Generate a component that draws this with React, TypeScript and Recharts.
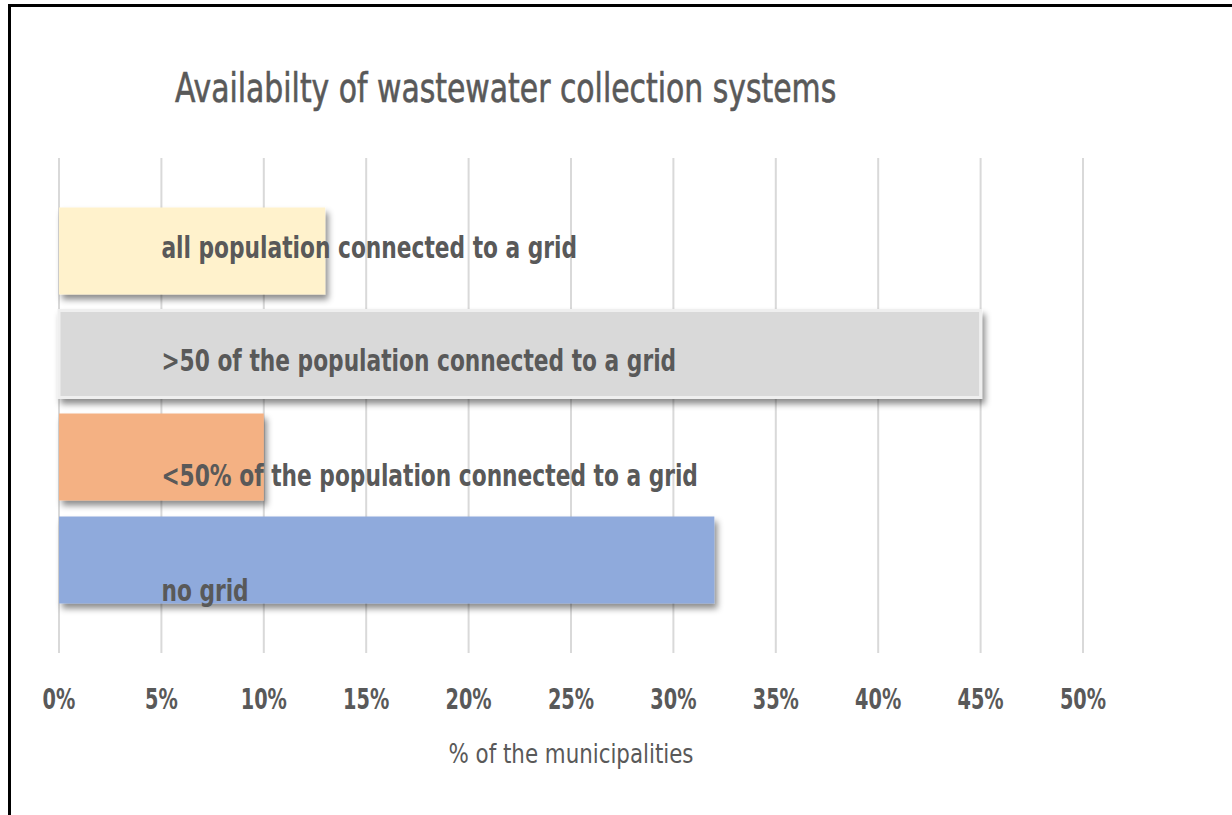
import React from "react";
import { BarChart, Bar, XAxis, YAxis, CartesianGrid, Cell, LabelList } from "recharts";

const categories = [
  "all population connected to a grid",
  ">50 of the population connected to a grid",
  "<50% of the population connected to a grid",
  "no grid",
];
const values = [0.13, 0.45, 0.10, 0.32];
const tickValues = [0, 0.05, 0.1, 0.15, 0.2, 0.25, 0.3, 0.35, 0.4, 0.45, 0.5];
const tickLabels = ["0%", "5%", "10%", "15%", "20%", "25%", "30%", "35%", "40%", "45%", "50%"];
const labelAnchorValue = 0.05;

const COLORS = ["#FFF2CC", "#D9D9D9", "#F4B183", "#8FAADC"];
const STROKES = ["none", "#EFEFEF", "none", "none"];
const LABEL_DY = [50, 60, 72, 84];
const FONT = "'DejaVu Sans Condensed', 'DejaVu Sans', sans-serif";
const TEXT = "#595959";

const data = categories.map((name, i) => ({ name, value: values[i] }));

const BarLabel = (props: any) => {
  const { x, y, width, index, value } = props;
  const lx = x + (width * labelAnchorValue) / value;
  return (
    <text
      transform={`translate(${lx},${y + LABEL_DY[index]}) scale(0.78,1)`}
      fill={TEXT}
      fontFamily={FONT}
      fontWeight={700}
      fontSize={31}
    >
      {categories[index]}
    </text>
  );
};

const Tick = (props: any) => {
  const { x, y, payload } = props;
  const i = tickValues.indexOf(payload.value);
  return (
    <text
      transform={`translate(${x},${y + 56}) scale(0.74,1)`}
      textAnchor="middle"
      fill={TEXT}
      fontFamily={FONT}
      fontWeight={700}
      fontSize={29}
    >
      {tickLabels[i] ?? ""}
    </text>
  );
};

export default function App() {
  return (
    <div style={{ position: "absolute", left: 0, top: 0, width: 1232, height: 815, background: "#fff", overflow: "hidden" }}>
      <div
        style={{
          position: "absolute",
          left: 8,
          top: 4,
          width: 1230,
          height: 820,
          borderLeft: "3px solid #000",
          borderTop: "3px solid #000",
        }}
      />
      <svg style={{ position: "absolute", left: 0, top: 0 }} width={1232} height={815}>
        <text
          transform="translate(175,102) scale(0.83,1)"
          fill={TEXT}
          stroke={TEXT}
          strokeWidth={0.6}
          fontFamily={FONT}
          fontSize={40}
        >
          Availabilty of wastewater collection systems
        </text>
        <text transform="translate(571,763) scale(0.88,1)" textAnchor="middle" fill={TEXT} fontFamily={FONT} fontSize={27}>
          % of the municipalities
        </text>
      </svg>
      <div style={{ position: "absolute", left: 0, top: 0 }}>
        <BarChart
          width={1232}
          height={815}
          data={data}
          layout="vertical"
          margin={{ top: 158, right: 149, bottom: 0, left: 59 }}
        >
          <defs>
            <filter id="barShadow" x="-10%" y="-20%" width="130%" height="160%">
              <feDropShadow dx="3" dy="5" stdDeviation="3" floodColor="#000" floodOpacity="0.45" />
            </filter>
          </defs>
          <CartesianGrid horizontal={false} stroke="#D9D9D9" strokeWidth={2} />
          <XAxis
            type="number"
            domain={[0, 0.5]}
            ticks={tickValues}
            axisLine={false}
            tickLine={false}
            tickSize={0}
            tickMargin={0}
            height={162}
            tick={<Tick />}
            interval={0}
          />
          <YAxis type="category" dataKey="name" hide padding={{ top: 41.5, bottom: 41.5 }} />
          <Bar dataKey="value" barSize={87} isAnimationActive={false} filter="url(#barShadow)">
            {data.map((d, i) => (
              <Cell key={d.name} fill={COLORS[i]} stroke={STROKES[i]} strokeWidth={3} />
            ))}
            <LabelList dataKey="value" content={<BarLabel />} />
          </Bar>
        </BarChart>
      </div>
    </div>
  );
}
